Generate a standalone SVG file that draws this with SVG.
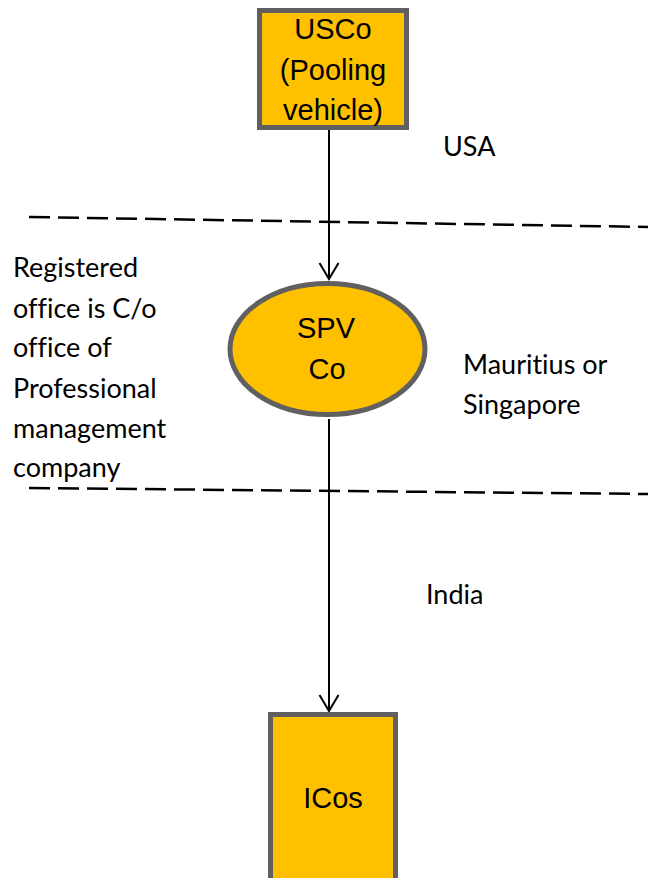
<svg xmlns="http://www.w3.org/2000/svg" width="648" height="878" viewBox="0 0 648 878">
<defs>
<marker id="arr" markerUnits="userSpaceOnUse" markerWidth="24" markerHeight="24" viewBox="-20 -12 24 24" refX="0" refY="0" orient="auto">
<path d="M-16,-9.5 L0,0 L-16,9.5" fill="none" stroke="#000" stroke-width="2"/>
</marker>
</defs>
<style>
.box{fill:#FFC000;stroke:#606060;stroke-width:5}
.nt{font-family:"Liberation Sans",Arial,sans-serif;font-size:29px;fill:#000;text-anchor:middle}
.lbl{font-family:Lato,"Open Sans",sans-serif;font-size:27px;fill:#000;font-variant-ligatures:none}
.dash{stroke:#000;stroke-width:2.5;stroke-dasharray:21 8;fill:none}
.conn{stroke:#000;stroke-width:2;fill:none}
</style>
<rect width="648" height="878" fill="#fff"/>
<g id="borders">
<line class="dash" x1="29" y1="217" x2="648" y2="227"/>
<line class="dash" x1="29" y1="488" x2="648" y2="494"/>
</g>
<g id="connectors">
<line class="conn" x1="329" y1="129" x2="329" y2="279" marker-end="url(#arr)"/>
<line class="conn" x1="329" y1="419" x2="329" y2="711" marker-end="url(#arr)"/>
</g>
<g id="usco">
<rect class="box" x="259.5" y="10.5" width="147" height="117"/>
<text class="nt" x="333" y="39">USCo</text>
<text class="nt" x="333" y="80">(Pooling</text>
<text class="nt" x="333" y="120">vehicle)</text>
</g>
<g id="spvco">
<ellipse class="box" cx="327.5" cy="349" rx="97.5" ry="65.5"/>
<text class="nt" x="326" y="338">SPV</text>
<text class="nt" x="327" y="379">Co</text>
</g>
<g id="icos">
<rect class="box" x="270.5" y="714.5" width="125" height="175"/>
<text class="nt" x="333" y="808">ICos</text>
</g>
<g id="labels">
<text class="lbl" x="443" y="156">USA</text>
<text class="lbl" x="463" y="374">Mauritius or</text>
<text class="lbl" x="463" y="414">Singapore</text>
<text class="lbl" x="426" y="604">India</text>
<text class="lbl" x="13" y="277">Registered</text>
<text class="lbl" x="13" y="318">office is C/o</text>
<text class="lbl" x="13" y="357">office of</text>
<text class="lbl" x="13" y="398">Professional</text>
<text class="lbl" x="13" y="438">management</text>
<text class="lbl" x="13" y="477">company</text>
</g>
</svg>
